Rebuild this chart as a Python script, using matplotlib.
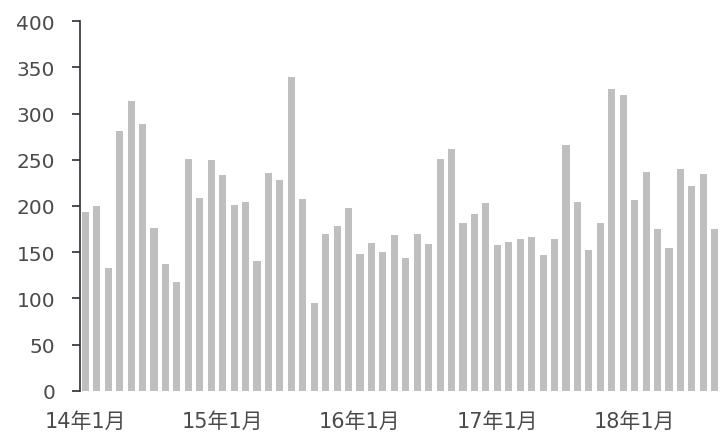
import matplotlib
matplotlib.use("Agg")
import matplotlib.pyplot as plt
import numpy as np

plt.rcParams['font.family'] = ['DejaVu Sans', 'Noto Sans CJK SC']

# monthly values, 2014-01 .. 2018-09
values = [193, 200, 133, 281, 314, 289, 176, 137, 118, 251, 209, 250,
          233, 201, 204, 141, 236, 228, 340, 208, 95, 170, 178, 198,
          148, 160, 150, 169, 144, 170, 159, 251, 262, 182, 191, 203,
          158, 161, 164, 166, 147, 164, 266, 204, 152, 182, 327, 320,
          207, 237, 175, 155, 240, 222, 235, 175, 217]
tick_pos = [0, 12, 24, 36, 48]
tick_labels = ['14年1月', '15年1月', '16年1月', '17年1月', '18年1月']
y_ticks = [0, 50, 100, 150, 200, 250, 300, 350, 400]

x = np.arange(len(values))

fig = plt.figure(figsize=(7.23, 4.35), dpi=100)
ax = fig.add_axes([0.1107, 0.0989, 0.8893, 0.8505])

ax.bar(x, values, width=0.62, color='#bfbfbf')

ax.set_xlim(-0.46, 55.72)
ax.set_ylim(0, 400)
ax.set_yticks(y_ticks)
ax.set_xticks(tick_pos)
ax.set_xticklabels(tick_labels)

for s in ['top', 'right', 'bottom']:
    ax.spines[s].set_visible(False)
ax.spines['left'].set_color('#2b2f3a')
ax.spines['left'].set_linewidth(1.2)

ax.tick_params(axis='y', length=6, width=1.2, color='#2b2f3a',
               labelsize=14.5, labelcolor='#4a4a4a', pad=12)
ax.tick_params(axis='x', length=0, labelsize=15, labelcolor='#4a4a4a', pad=14)

fig.savefig('out.png', dpi=100)
